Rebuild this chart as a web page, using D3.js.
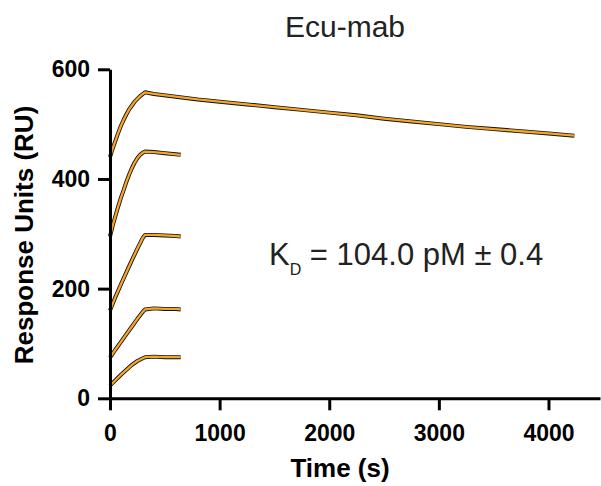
<!DOCTYPE html>
<html>
<head>
<meta charset="utf-8">
<script src="https://cdn.jsdelivr.net/npm/d3@7"></script>
<style>
  body { margin: 0; background: #fff; }
  svg text { font-family: "Liberation Sans", Arial, Helvetica, sans-serif; }
</style>
</head>
<body>
<svg id="chart"></svg>
<script>
const WIDTH = 601;
const HEIGHT = 486;

// sensorgram curves, [time (s), response (RU)]
const curve1 = [[0,440],[25,456],[50,470],[75,484],[100,497],[125,508],[150,518],[175,527],[200,534],[225,541],[250,546],[275,551],[300,555],[320,558],
  [400,555],[600,550],[800,545],[1000,541],[1250,536],[1500,531],[1750,526],[2000,521],[2250,516],[2500,510],[2750,505],[3000,500],[3250,495],[3500,491],[3750,487],[4000,483],[4236,479]];
const curve2 = [[0,295],[25,315],[50,333],[75,350],[100,366],[125,380],[150,395],[175,408],[200,420],[225,430],[250,438],[275,444],[300,448],[320,450],
  [400,449],[500,447],[600,445],[645,444]];
const curve3 = [[0,160],[50,185],[100,208],[150,230],[200,252],[250,273],[300,293],[320,298],
  [400,298],[500,297],[600,296],[645,295]];
const curve4 = [[0,74],[50,89],[100,103],[150,117],[200,131],[250,145],[300,158],[320,162],
  [400,164],[500,163],[600,163],[645,162]];
const curve5 = [[0,23],[50,33],[100,43],[150,52],[200,61],[250,68],[300,73],[320,75],
  [400,76],[500,75],[600,75],[645,75]];
const curves = [curve1, curve2, curve3, curve4, curve5];

const xTicks = [0, 1000, 2000, 3000, 4000];
const yTicks = [0, 200, 400, 600];

const svg = d3.select("#chart")
  .attr("width", WIDTH)
  .attr("height", HEIGHT);

const x = d3.scaleLinear().domain([0, 4470]).range([110, 600]);
const y = d3.scaleLinear().domain([0, 600]).range([398.3, 69.3]);

const line = d3.line()
  .x(d => x(d[0]))
  .y(d => y(d[1]));

// black = measured response, orange = fit
curves.forEach(c => {
  svg.append("path")
    .datum(c)
    .attr("fill", "none")
    .attr("stroke", "#111")
    .attr("stroke-width", 4)
    .attr("stroke-linejoin", "round")
    .attr("d", line);
  svg.append("path")
    .datum(c)
    .attr("fill", "none")
    .attr("stroke", "#f5a52a")
    .attr("stroke-width", 2.3)
    .attr("stroke-linejoin", "round")
    .attr("d", line);
});

const xAxis = svg.append("g")
  .attr("transform", `translate(0,${y(0)})`)
  .call(d3.axisBottom(x).tickValues(xTicks).tickFormat(d3.format("d"))
    .tickSize(12).tickSizeOuter(0).tickPadding(14));

const yAxis = svg.append("g")
  .attr("transform", `translate(${x(0)},0)`)
  .call(d3.axisLeft(y).tickValues(yTicks).tickFormat(d3.format("d"))
    .tickSize(12).tickSizeOuter(0).tickPadding(8));

[xAxis, yAxis].forEach(g => {
  g.select(".domain").attr("stroke", "#000").attr("stroke-width", 3);
  g.selectAll(".tick line").attr("stroke", "#000").attr("stroke-width", 3);
  g.selectAll(".tick text")
    .attr("fill", "#000")
    .style("font-size", "23px")
    .style("font-weight", "bold")
    .style("font-family", "'Liberation Sans', Arial, sans-serif");
});

svg.append("text")
  .attr("x", 345)
  .attr("y", 37)
  .attr("text-anchor", "middle")
  .attr("fill", "#222")
  .style("font-size", "30px")
  .text("Ecu-mab");

svg.append("text")
  .attr("x", 340)
  .attr("y", 477)
  .attr("text-anchor", "middle")
  .style("font-size", "26px")
  .style("font-weight", "bold")
  .text("Time (s)");

svg.append("text")
  .attr("transform", "translate(33,235) rotate(-90)")
  .attr("text-anchor", "middle")
  .style("font-size", "26px")
  .style("font-weight", "bold")
  .text("Response Units (RU)");

const kd = svg.append("text")
  .attr("x", 269)
  .attr("y", 265)
  .attr("fill", "#222")
  .style("font-size", "31px");
kd.append("tspan").text("K");
kd.append("tspan").attr("dy", 10).style("font-size", "16px").text("D");
kd.append("tspan").attr("dy", -10).text(" = 104.0 pM ± 0.4");
</script>
</body>
</html>
